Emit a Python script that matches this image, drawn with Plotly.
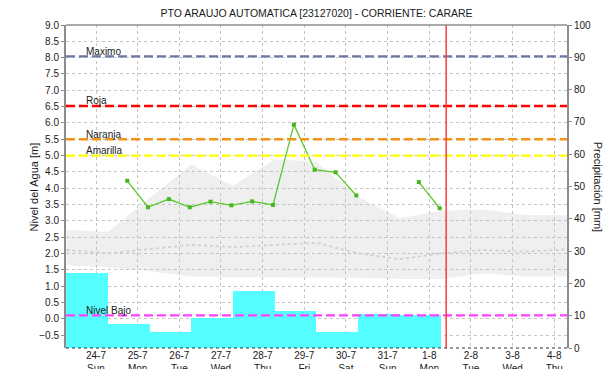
import pandas as pd
import plotly.graph_objects as go

TITLE = "PTO ARAUJO AUTOMATICA [23127020] - CORRIENTE: CARARE"

# Water level readings (m), taken at 06:00 and 18:00
level_times = [
    "2022-07-24 18:00", "2022-07-25 06:00", "2022-07-25 18:00", "2022-07-26 06:00",
    "2022-07-26 18:00", "2022-07-27 06:00", "2022-07-27 18:00", "2022-07-28 06:00",
    "2022-07-28 18:00", "2022-07-29 06:00", "2022-07-29 18:00", "2022-07-30 06:00",
    "2022-07-30 18:00", "2022-07-31 06:00", "2022-07-31 18:00", "2022-08-01 06:00",
]
level_values = [4.23, 3.42, 3.67, 3.42, 3.59, 3.48, 3.60, 3.49,
                5.95, 4.57, 4.49, 3.78, None, None, 4.19, 3.39]

# Historical envelope of the level (m), daily at 07:00
band_times = pd.date_range("2022-07-23 07:00", "2022-08-04 07:00", freq="D")
band_upper = [2.72, 2.67, 3.70, 4.73, 4.07, 4.89, 4.81, 3.74, 3.08, 3.31, 3.36, 3.18, 3.18]
band_lower = [1.64, 1.58, 1.46, 1.30, 1.28, 1.27, 1.27, 1.26, 1.22, 1.22, 1.40, 1.30, 1.30]
band_mean = [2.11, 2.01, 2.14, 2.27, 2.20, 2.27, 2.33, 2.01, 1.83, 2.01, 2.11, 2.06, 2.13]

# Daily rainfall (mm), 07:00 to 07:00, stamped with the closing date
rain_dates = ["2022-07-24", "2022-07-25", "2022-07-26", "2022-07-27", "2022-07-28",
              "2022-07-29", "2022-07-30", "2022-07-31", "2022-08-01"]
rain_mm = [23.2, 7.5, 5.1, 9.4, 17.7, 11.5, 5.1, 10.6, 10.3]

# Alert thresholds (m)
threshold_names = ["Maximo", "Roja", "Naranja", "Amarilla", "Nivel Bajo"]
threshold_values = [8.04, 6.52, 5.5, 5.0, 0.11]
threshold_colors = ["#6A76A8", "#FF0000", "#F39419", "#FFFF00", "#FF40FF"]

# Time axis labels
tick_dates = pd.date_range("2022-07-24", "2022-08-04", freq="D")
tick_days = ["24-7", "25-7", "26-7", "27-7", "28-7", "29-7",
             "30-7", "31-7", "1-8", "2-8", "3-8", "4-8"]
tick_weekdays = ["Sun", "Mon", "Tue", "Wed", "Thu", "Fri",
                 "Sat", "Sun", "Mon", "Tue", "Wed", "Thu"]

now_time = "2022-08-01 09:45"
x_range = ["2022-07-23 06:43", "2022-08-04 07:21"]

FONT = "Liberation Sans"
AXIS_GRAY = "#8C8C8C"
GRID = "#C4C4C4"

fig = go.Figure()

# Rainfall bars, centred on each 07:00-07:00 period
rain_end = pd.to_datetime(rain_dates) + pd.Timedelta(hours=7)
rain_center = rain_end - pd.Timedelta(hours=12)
fig.add_trace(go.Bar(
    x=rain_center, y=rain_mm, width=24 * 3600 * 1000,
    marker=dict(color="#55FFFF", line=dict(width=0)),
    yaxis="y2", name="Precipitación", hoverinfo="x+y",
))

# Historical envelope
fig.add_trace(go.Scatter(
    x=band_times, y=band_upper, mode="lines",
    line=dict(width=0, color="rgba(0,0,0,0)"), showlegend=False,
))
fig.add_trace(go.Scatter(
    x=band_times, y=band_lower, mode="lines", fill="tonexty",
    fillcolor="rgba(190,190,190,0.25)",
    line=dict(width=0, color="rgba(0,0,0,0)"), showlegend=False,
))
fig.add_trace(go.Scatter(
    x=band_times, y=band_mean, mode="lines",
    line=dict(width=1.8, color="#D0D0D0", dash="dot"), showlegend=False,
))

# Observed level
fig.add_trace(go.Scatter(
    x=pd.to_datetime(level_times), y=level_values, mode="lines+markers",
    line=dict(width=1.3, color="#5CC82E"),
    marker=dict(symbol="square", size=4, color="#44B81C"),
    connectgaps=False, showlegend=False,
))

shapes = []
annotations = []
for name, val, col in zip(threshold_names, threshold_values, threshold_colors):
    shapes.append(dict(
        type="line", xref="paper", yref="y", x0=0, x1=1, y0=val, y1=val,
        line=dict(color=col, width=2.4, dash="9px,4px"), layer="above",
    ))
    annotations.append(dict(
        text=name, xref="paper", yref="y", x=0.036, y=val,
        xanchor="left", yanchor="middle", yshift=5, showarrow=False,
        font=dict(family=FONT, size=10, color="#1A1A1A"),
    ))

# Current time marker
shapes.append(dict(
    type="line", xref="x", yref="paper", x0=now_time, x1=now_time, y0=0, y1=1,
    line=dict(color="#FF3B3B", width=1.5), layer="above",
))
# Frame: top border and dotted baseline
shapes.append(dict(type="line", xref="paper", yref="paper", x0=0, x1=1, y0=1, y1=1,
                   line=dict(color=AXIS_GRAY, width=1.5), layer="above"))
shapes.append(dict(type="line", xref="paper", yref="paper", x0=0, x1=1, y0=0, y1=0,
                   line=dict(color="#333333", width=1.2, dash="dot"), layer="above"))

# Axis titles
annotations.append(dict(
    text="Nivel del Agua [m]", xref="paper", yref="paper", x=-0.064, y=0.5,
    xanchor="center", yanchor="middle", textangle=-90, showarrow=False,
    font=dict(family=FONT, size=11, color="#1A1A1A"),
))
annotations.append(dict(
    text="Precipitación [mm]", xref="paper", yref="paper", x=1.0635, y=0.5,
    xanchor="center", yanchor="middle", textangle=90, showarrow=False,
    font=dict(family=FONT, size=11, color="#1A1A1A"),
))

fig.update_layout(
    width=615, height=369,
    margin=dict(l=66, r=48, t=25, b=21),
    paper_bgcolor="white", plot_bgcolor="white",
    showlegend=False, bargap=0,
    title=dict(text=TITLE, x=0.5, xref="paper", y=1 - 13.5 / 369, yref="container",
               xanchor="center", yanchor="middle",
               font=dict(family=FONT, size=10.5, color="#1A1A1A")),
    font=dict(family=FONT, size=10, color="#1A1A1A"),
    xaxis=dict(
        type="date", range=x_range, automargin=False,
        tickvals=tick_dates,
        ticktext=[f"{d}<br>{w}" for d, w in zip(tick_days, tick_weekdays)],
        showgrid=True, gridcolor=GRID, griddash="dot", gridwidth=1,
        showline=False, ticks="", zeroline=False,
        tickfont=dict(family=FONT, size=10, color="#1A1A1A"),
    ),
    yaxis=dict(
        range=[-0.89, 9.0], dtick=0.5, tick0=0, tickformat=".1f", automargin=False,
        showgrid=True, gridcolor=GRID, griddash="dot", gridwidth=1,
        showline=True, linecolor=AXIS_GRAY, linewidth=2,
        ticks="outside", ticklen=3, tickcolor=AXIS_GRAY, zeroline=False,
        tickfont=dict(family=FONT, size=10, color="#1A1A1A"),
    ),
    yaxis2=dict(
        range=[0, 100], dtick=10, overlaying="y", side="right", automargin=False,
        showgrid=False, showline=True, linecolor=AXIS_GRAY, linewidth=2,
        ticks="outside", ticklen=3, tickcolor=AXIS_GRAY, zeroline=False,
        tickfont=dict(family=FONT, size=10, color="#1A1A1A"),
    ),
    shapes=shapes, annotations=annotations,
)

fig.write_html("out.html")
